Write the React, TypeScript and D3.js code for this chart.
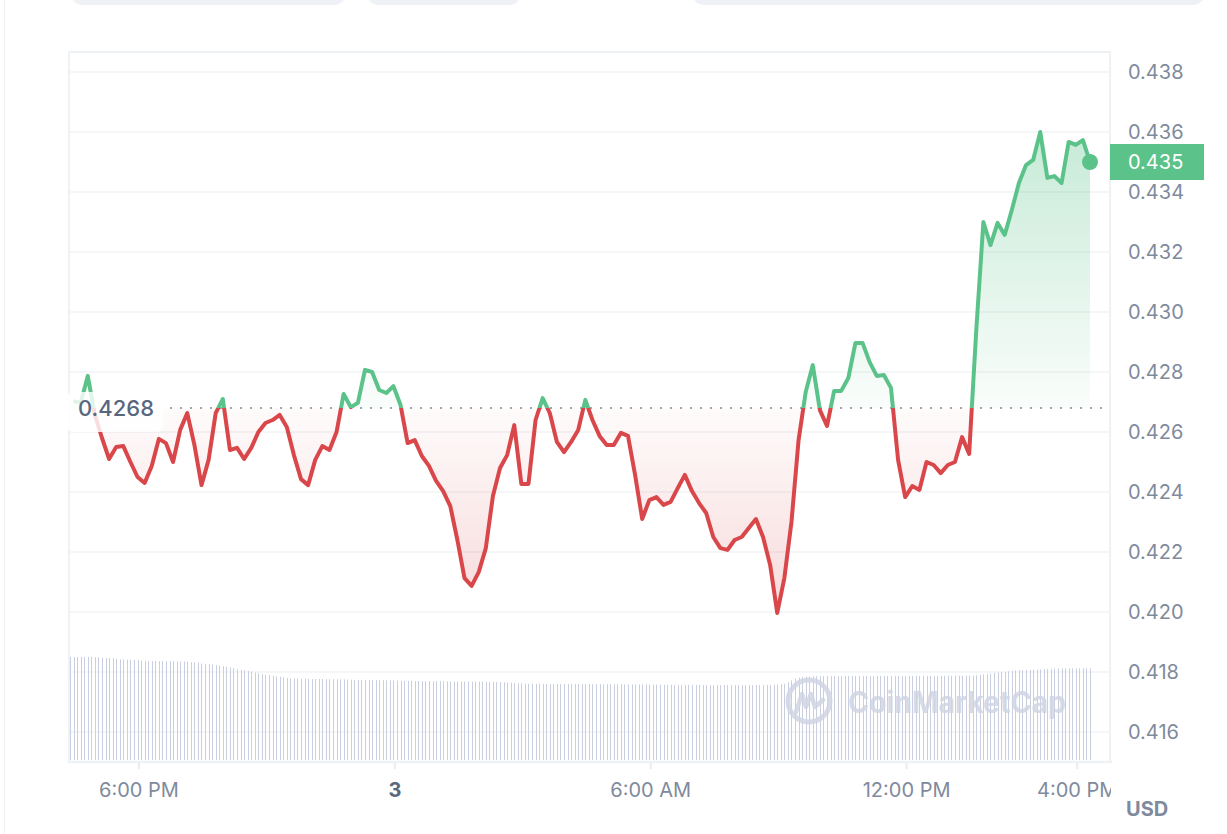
import React, { useEffect, useRef } from 'react'
import * as d3 from 'd3'

const W = 1227
const H = 834

// close price every 10 minutes, 16:28 on the 2nd -> 16:18 on the 3rd
const prices = [
  0.42703, 0.42697, 0.42787, 0.42657, 0.42580, 0.42510, 0.42550, 0.42553, 0.42500, 0.42450,
  0.42430, 0.42487, 0.42577, 0.42563, 0.42500, 0.42607, 0.42663, 0.42557, 0.42423, 0.42507,
  0.42663, 0.42710, 0.42540, 0.42547, 0.42510, 0.42547, 0.42600, 0.42630, 0.42640, 0.42657,
  0.42617, 0.42523, 0.42443, 0.42423, 0.42507, 0.42553, 0.42540, 0.42600, 0.42727, 0.42683,
  0.42697, 0.42807, 0.42800, 0.42740, 0.42730, 0.42753, 0.42690, 0.42563, 0.42573, 0.42520,
  0.42487, 0.42437, 0.42403, 0.42353, 0.42240, 0.42113, 0.42087, 0.42133, 0.42213, 0.42387,
  0.42480, 0.42523, 0.42623, 0.42427, 0.42427, 0.42640, 0.42713, 0.42663, 0.42567, 0.42533,
  0.42567, 0.42607, 0.42707, 0.42640, 0.42587, 0.42557, 0.42557, 0.42597, 0.42587, 0.42457,
  0.42310, 0.42373, 0.42383, 0.42357, 0.42367, 0.42413, 0.42457, 0.42403, 0.42363, 0.42330,
  0.42250, 0.42213, 0.42207, 0.42240, 0.42250, 0.42280, 0.42310, 0.42250, 0.42157, 0.41997,
  0.42113, 0.42300, 0.42573, 0.42733, 0.42823, 0.42673, 0.42620, 0.42737, 0.42737, 0.42780,
  0.42897, 0.42897, 0.42833, 0.42787, 0.42790, 0.42747, 0.42507, 0.42383, 0.42420, 0.42407,
  0.42500, 0.42490, 0.42463, 0.42490, 0.42500, 0.42583, 0.42527, 0.42940, 0.43300, 0.43223,
  0.43297, 0.43257, 0.43340, 0.43430, 0.43490, 0.43507, 0.43600, 0.43447, 0.43453, 0.43430,
  0.43567, 0.43557, 0.43573, 0.43500,
]

// 24h volume (millions USD), one bar every 5 minutes from 16:23
const volumes = [
  140.6, 140.5, 140.5, 140.5, 140.4, 140.4, 140.3, 140.2, 140.1,
  139.4, 139.2, 139.0, 138.8,
  137.6, 137.3, 137.1, 137.0, 136.8, 136.5, 136.2,
  135.4, 135.2, 135.1, 135.0, 135.0, 134.9, 134.9, 134.8, 134.8, 134.7, 134.6, 134.5, 134.3, 134.0,
  133.4, 133.0, 132.6,
  131.5, 131.0, 130.8, 130.2,
  129.2, 128.6, 128.0, 127.3,
  126.2, 125.3,
  123.8, 123.0, 122.4, 121.6,
  120.4, 119.3, 118.2,
  117.0, 116.2, 115.6, 114.9,
  114.0, 113.4, 112.8, 112.0,
  111.2, 110.9, 110.8, 110.7, 110.6, 110.6, 110.5, 110.5, 110.4,
  110.4, 110.3, 110.2, 110.1, 110.0, 109.9, 109.8, 109.6, 109.5,
  109.3, 109.2, 109.2, 109.1, 109.1, 109.0, 109.0, 108.9, 108.8, 108.7, 108.6, 108.5, 108.4, 108.2,
  108.0, 107.9, 107.8, 107.8, 107.7, 107.7, 107.6, 107.6, 107.5, 107.5, 107.4, 107.3, 107.2, 107.2,
  107.1, 107.1, 107.0, 107.0, 107.0, 106.9, 106.9, 106.8,
  106.8, 106.7, 106.6, 106.5, 106.3, 106.1, 105.9, 105.6,
  105.2, 105.0, 104.8, 104.5,
  104.2, 104.1, 104.0, 103.9, 103.9, 103.8, 103.8, 103.7, 103.7, 103.7,
  103.6, 103.6, 103.6, 103.6, 103.5, 103.5, 103.5, 103.5, 103.5, 103.4,
  103.4, 103.4, 103.3, 103.3, 103.3, 103.2, 103.2, 103.2, 103.1, 103.1,
  103.0, 103.0, 103.0, 102.9, 102.9, 102.8, 102.8, 102.8, 102.7, 102.7,
  102.6,
  102.6, 102.5, 102.5, 102.5, 102.5, 102.4, 102.4, 102.4, 102.4, 102.4, 102.3,
  102.3, 102.3, 102.3, 102.3, 102.3, 102.2, 102.2, 102.2, 102.2, 102.2, 102.2,
  102.2, 102.2, 102.3, 102.3, 102.3, 102.4, 102.5, 102.6, 102.8, 103.2, 104.0,
  106.0, 108.5,
  110.8, 112.4, 113.2, 113.6, 113.9, 114.1,
  114.3, 114.3, 114.4, 114.4, 114.4, 114.5, 114.5, 114.5, 114.5,
  114.5, 114.5, 114.5, 114.5, 114.5, 114.5, 114.5, 114.5, 114.5,
  114.5, 114.5, 114.6, 114.6, 114.6, 114.6, 114.6, 114.6, 114.6,
  114.6, 114.6, 114.7, 114.7, 114.7, 114.7, 114.7, 114.7, 114.8,
  114.8, 114.8, 114.8, 114.9, 115.0, 115.0, 115.1, 115.2, 115.3,
  115.6, 116.4, 117.0, 117.5, 118.0, 118.6,
  119.4, 120.0, 120.5, 121.1,
  121.8, 122.2, 122.5, 122.7, 122.9, 123.1, 123.3, 123.5, 123.7, 123.9,
  124.2, 124.4, 124.5, 124.6, 124.7, 124.8, 124.8, 124.9, 124.9, 125.0, 125.0, 125.0, 125.0,
]

const yTicks = [0.416, 0.418, 0.42, 0.422, 0.424, 0.426, 0.428, 0.43, 0.432, 0.434, 0.436, 0.438]
const xTickHours = [18, 24, 30, 36, 40] // hours after midnight of the 2nd
const xTickLabels = ['6:00 PM', '3', '6:00 AM', '12:00 PM', '4:00 PM']
const openPrice = 0.4268

const GREEN = '#5bc38a'
const RED = '#d9474a'
const MUTED = '#808a9d'
const DARK = '#58667e'
const LINE = '#eff2f5'

const MIN = 60 * 1000
const day0 = new Date(2024, 6, 2, 0, 0)
const start = new Date(2024, 6, 2, 16, 23)

function App() {
  const ref = useRef<SVGSVGElement>(null)

  useEffect(() => {
    const svg = d3.select(ref.current)
    svg.selectAll('*').remove()

    const priceTimes = prices.map((_, i) => new Date(+start + 5 * MIN + i * 10 * MIN))
    const volTimes = volumes.map((_, i) => new Date(+start + i * 5 * MIN))

    const x = d3.scaleTime().domain([start, new Date(+start + 287 * 5 * MIN)]).range([70, 1090])
    const y = d3.scaleLinear().domain([0.416, 0.438]).range([732, 72])
    const yVol = d3.scaleLinear().domain([0, 150]).range([760, 650])
    const baseY = y(openPrice)

    const defs = svg.append('defs')
    defs.append('clipPath').attr('id', 'above')
      .append('rect').attr('x', 0).attr('y', 0).attr('width', W).attr('height', baseY)
    defs.append('clipPath').attr('id', 'below')
      .append('rect').attr('x', 0).attr('y', baseY).attr('width', W).attr('height', H - baseY)
    defs.append('clipPath').attr('id', 'plotx')
      .append('rect').attr('x', 0).attr('y', 0).attr('width', 1111).attr('height', H)

    const gUp = defs.append('linearGradient').attr('id', 'gUp')
      .attr('gradientUnits', 'userSpaceOnUse')
      .attr('x1', 0).attr('x2', 0).attr('y1', y(d3.max(prices)!)).attr('y2', baseY)
    gUp.append('stop').attr('offset', 0).attr('stop-color', GREEN).attr('stop-opacity', 0.34)
    gUp.append('stop').attr('offset', 1).attr('stop-color', GREEN).attr('stop-opacity', 0.03)

    const gDn = defs.append('linearGradient').attr('id', 'gDn')
      .attr('gradientUnits', 'userSpaceOnUse')
      .attr('x1', 0).attr('x2', 0).attr('y1', baseY).attr('y2', y(d3.min(prices)!))
    gDn.append('stop').attr('offset', 0).attr('stop-color', RED).attr('stop-opacity', 0.02)
    gDn.append('stop').attr('offset', 1).attr('stop-color', RED).attr('stop-opacity', 0.2)

    // bits of the page around the chart
    svg.append('line').attr('x1', 4.5).attr('x2', 4.5).attr('y1', 0).attr('y2', H)
      .attr('stroke', LINE).attr('stroke-width', 1)
    ;[[72, 273], [368, 152], [693, 511]].forEach(([px, pw]) => {
      svg.append('rect').attr('x', px).attr('y', -20).attr('width', pw).attr('height', 25)
        .attr('rx', 10).attr('fill', '#eef1f5')
    })

    // grid
    svg.append('g').selectAll('line').data(yTicks).enter().append('line')
      .attr('x1', 70).attr('x2', 1109)
      .attr('y1', d => y(d)).attr('y2', d => y(d))
      .attr('stroke', '#f1f3f6').attr('stroke-width', 1.5)

    // frame
    const frame = svg.append('g').attr('stroke', LINE).attr('stroke-width', 2)
    frame.append('line').attr('x1', 68).attr('x2', 1111).attr('y1', 52).attr('y2', 52)
    frame.append('line').attr('x1', 69).attr('x2', 69).attr('y1', 52).attr('y2', 762)
    frame.append('line').attr('x1', 1110).attr('x2', 1110).attr('y1', 52).attr('y2', 763)
    frame.append('line').attr('x1', 68).attr('x2', 1112).attr('y1', 762).attr('y2', 762).attr('stroke-width', 2.5)

    // volume
    svg.append('g').selectAll('line').data(volumes).enter().append('line')
      .attr('x1', (_, i) => Math.round(x(volTimes[i])) + 0.5)
      .attr('x2', (_, i) => Math.round(x(volTimes[i])) + 0.5)
      .attr('y1', 760).attr('y2', d => yVol(d))
      .attr('stroke', '#c9cfe1').attr('stroke-width', 1)

    // watermark
    const wm = svg.append('g').attr('opacity', 0.85)
    wm.append('circle').attr('cx', 809).attr('cy', 701).attr('r', 21)
      .attr('fill', 'none').attr('stroke', '#cfd5e3').attr('stroke-width', 5)
    wm.append('path').attr('d', 'M796,712 L802,694 L806,707 L811,694 L815,707 L823,700')
      .attr('fill', 'none').attr('stroke', '#cfd5e3').attr('stroke-width', 4.5)
      .attr('stroke-linejoin', 'round').attr('stroke-linecap', 'round')
    wm.append('text').attr('x', 848).attr('y', 713).text('CoinMarketCap')
      .attr('font-size', 30).attr('font-weight', 700).attr('fill', '#cfd5e3')
      .attr('textLength', 218).attr('lengthAdjust', 'spacingAndGlyphs')

    // areas
    const area = d3.area<number>()
      .x((_, i) => x(priceTimes[i]))
      .y0(baseY)
      .y1(d => y(d))
    svg.append('path').datum(prices).attr('d', area)
      .attr('fill', 'url(#gUp)').attr('clip-path', 'url(#above)')
    svg.append('path').datum(prices).attr('d', area)
      .attr('fill', 'url(#gDn)').attr('clip-path', 'url(#below)')

    // open price dotted line
    svg.append('line').attr('x1', 170).attr('x2', 1104).attr('y1', baseY).attr('y2', baseY)
      .attr('stroke', '#9ea5b3').attr('stroke-width', 2).attr('stroke-dasharray', '2 8')

    // price line
    const line = d3.line<number>()
      .x((_, i) => x(priceTimes[i]))
      .y(d => y(d))
    svg.append('path').datum(prices).attr('d', line)
      .attr('fill', 'none').attr('stroke', GREEN).attr('stroke-width', 4)
      .attr('stroke-linejoin', 'round').attr('clip-path', 'url(#above)')
    svg.append('path').datum(prices).attr('d', line)
      .attr('fill', 'none').attr('stroke', RED).attr('stroke-width', 4)
      .attr('stroke-linejoin', 'round').attr('clip-path', 'url(#below)')

    // open price label
    svg.append('rect').attr('x', 67).attr('y', 392).attr('width', 96).attr('height', 40)
      .attr('rx', 6).attr('fill', '#fff').attr('opacity', 0.82)
    svg.append('text').attr('x', 78).attr('y', baseY).attr('dy', '0.35em')
      .text(String(openPrice)).attr('font-size', 22).attr('font-weight', 500).attr('fill', DARK)

    // last point
    const last = prices.length - 1
    svg.append('circle').attr('cx', x(priceTimes[last])).attr('cy', y(prices[last])).attr('r', 8)
      .attr('fill', GREEN)

    // y axis labels
    svg.append('g').selectAll('text').data(yTicks).enter().append('text')
      .attr('x', 1128).attr('y', d => y(d)).attr('dy', '0.36em')
      .text(d => d3.format('.3f')(d))
      .attr('font-size', 20).attr('fill', MUTED)

    // last price tag
    svg.append('rect').attr('x', 1110).attr('y', y(prices[last]) - 18).attr('width', 94).attr('height', 36)
      .attr('fill', GREEN)
    svg.append('text').attr('x', 1128).attr('y', y(prices[last])).attr('dy', '0.36em')
      .text(d3.format('.3f')(prices[last])).attr('font-size', 20).attr('fill', '#fff')

    // x axis
    const xTimes = xTickHours.map(h => new Date(+day0 + h * 60 * MIN))
    const xg = svg.append('g').attr('clip-path', 'url(#plotx)')
    xTimes.forEach((t, i) => {
      const tx = x(t)
      xg.append('line').attr('x1', tx).attr('x2', tx).attr('y1', 763).attr('y2', 769)
        .attr('stroke', '#e9ecf1').attr('stroke-width', 2)
      xg.append('text').attr('x', tx).attr('y', 797).attr('text-anchor', 'middle')
        .text(xTickLabels[i]).attr('font-size', 20)
        .attr('font-weight', xTickLabels[i] === '3' ? 700 : 400)
        .attr('fill', xTickLabels[i] === '3' ? DARK : MUTED)
    })

    svg.append('text').attr('x', 1126).attr('y', 816).text('USD')
      .attr('font-size', 20).attr('font-weight', 700).attr('fill', MUTED)
  }, [])

  return (
    <svg ref={ref} width={W} height={H}
      style={{ position: 'absolute', left: 0, top: 0, fontFamily: 'Inter, sans-serif', background: '#fff' }} />
  )
}

export default App
